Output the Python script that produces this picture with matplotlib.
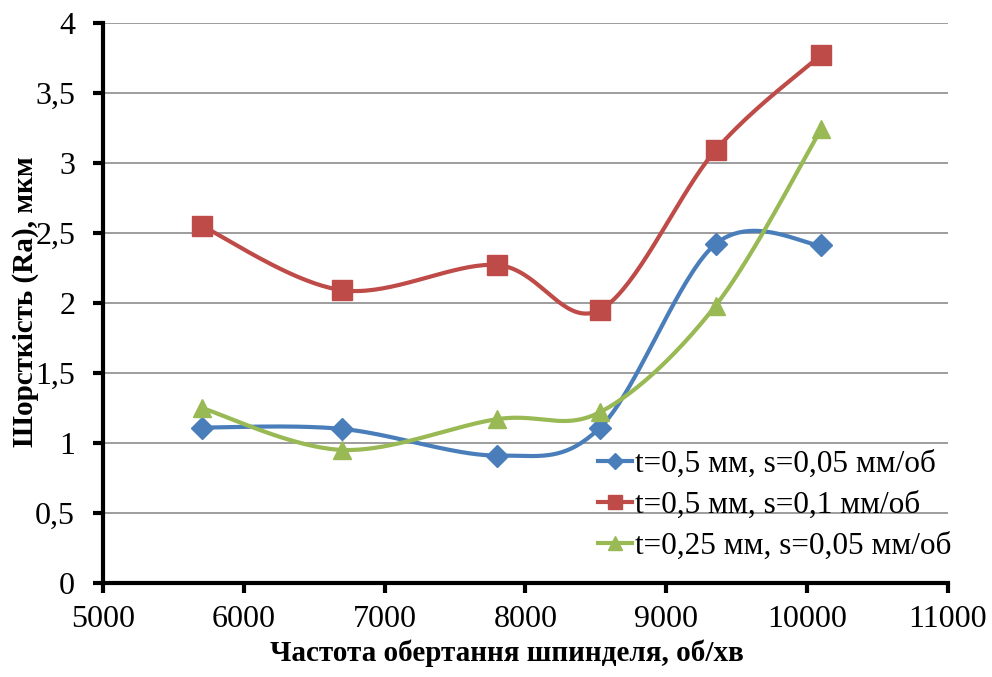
import numpy as np
import matplotlib
matplotlib.use("Agg")
import matplotlib.pyplot as plt
from matplotlib.lines import Line2D
from matplotlib.ticker import FuncFormatter, MultipleLocator

plt.rcParams['font.family'] = ['Liberation Serif', 'DejaVu Serif']

# Spindle speed, rpm
speed = [5700, 6700, 7800, 8530, 9350, 10100]

# Roughness Ra, um
ra_t05_s005 = [1.11, 1.10, 0.91, 1.11, 2.42, 2.41]
ra_t05_s01 = [2.55, 2.09, 2.27, 1.95, 3.09, 3.77]
ra_t025_s005 = [1.25, 0.95, 1.17, 1.22, 1.98, 3.24]

labels = ["t=0,5 мм, s=0,05 мм/об",
          "t=0,5 мм, s=0,1 мм/об",
          "t=0,25 мм, s=0,05 мм/об"]

colors = ["#4A7EBB", "#BE4B48", "#98B954"]
markers = ["D", "s", "^"]
msizes = [11.5, 14, 13]

fig = plt.figure(figsize=(9.92, 6.77), dpi=100)
ax = fig.add_axes([0.1038, 0.1388, 0.8518, 0.8277])
ax.set_xlim(5000, 11000)
ax.set_ylim(0, 4)


def smooth_curve(ax, xs, ys, tension=1.0 / 6, n=40):
    """Cubic Bezier smoothing through the points, computed in screen space."""
    pts = ax.transData.transform(np.column_stack([xs, ys]))
    m = len(pts)
    out = []
    for i in range(m - 1):
        p0 = pts[max(i - 1, 0)]
        p1 = pts[i]
        p2 = pts[i + 1]
        p3 = pts[min(i + 2, m - 1)]
        c1 = p1 + (p2 - p0) * tension
        c2 = p2 - (p3 - p1) * tension
        t = np.linspace(0, 1, n)[:, None]
        seg = ((1 - t) ** 3) * p1 + 3 * ((1 - t) ** 2) * t * c1 \
            + 3 * (1 - t) * t ** 2 * c2 + t ** 3 * p2
        out.append(seg if i == 0 else seg[1:])
    out = np.vstack(out)
    data = ax.transData.inverted().transform(out)
    return data[:, 0], data[:, 1]


series = [ra_t05_s005, ra_t05_s01, ra_t025_s005]
handles = []
for ys, c, mk, ms, lab in zip(series, colors, markers, msizes, labels):
    sx, sy = smooth_curve(ax, speed, ys)
    ax.plot(sx, sy, color=c, lw=3, zorder=3, solid_capstyle='round')
    ax.plot(speed, ys, linestyle='none', marker=mk, ms=ms, color=c,
            markeredgecolor=c, zorder=4)
    handles.append(Line2D([], [], color=c, lw=3, marker=mk, ms=ms * 0.75,
                          markeredgecolor=c, label=lab))

# Axes styling
ax.yaxis.set_major_locator(MultipleLocator(0.5))
ax.xaxis.set_major_locator(MultipleLocator(1000))
ax.yaxis.set_major_formatter(
    FuncFormatter(lambda v, p: ("%g" % v).replace('.', ',')))
ax.grid(axis='y', color='#8C8C8C', lw=1.2)
ax.set_axisbelow(True)
for side in ('top', 'right'):
    ax.spines[side].set_visible(False)
for side in ('left', 'bottom'):
    ax.spines[side].set_linewidth(3)
ax.tick_params(axis='both', direction='out', length=7, width=3,
               labelsize=23)
ax.tick_params(axis='x', pad=9)
ax.tick_params(axis='y', pad=13)

ax.set_xlabel("Частота обертання шпинделя, об/хв", fontsize=21,
              fontweight='bold', va='center')
ax.set_ylabel("Шорсткість (Ra), мкм", fontsize=21, fontweight='bold',
              va='center')
ax.xaxis.set_label_coords(0.478, -0.126)
ax.yaxis.set_label_coords(-0.092, 0.502)

ax.legend(handles=handles, loc='center left',
          bbox_to_anchor=((598 - 103) / 845, 0.139), frameon=False,
          fontsize=22.5, handlelength=1.1, handletextpad=0.1,
          labelspacing=0.38, borderpad=0, borderaxespad=0)

fig.savefig("out.png", dpi=100)
